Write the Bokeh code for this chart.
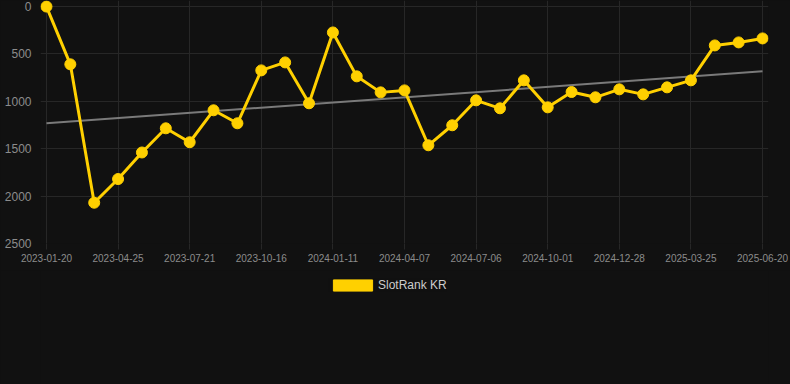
from bokeh.plotting import figure
from bokeh.layouts import column
from bokeh.models import Range1d, FixedTicker, Legend, LegendItem, ColumnDataSource
from bokeh.embed import file_html
from bokeh.resources import INLINE

tick_labels = ["2023-01-20", "2023-04-25", "2023-07-21", "2023-10-16", "2024-01-11",
               "2024-04-07", "2024-07-06", "2024-10-01", "2024-12-28", "2025-03-25", "2025-06-20"]
ranks = [1, 610, 2070, 1820, 1540, 1285, 1432, 1095, 1232, 674, 590, 1021, 274, 737, 906,
         885, 1464, 1253, 990, 1074, 779, 1064, 902, 958, 874, 927, 853, 779, 411, 379, 337]
trend_ends = [1232, 684]
series_name = "SlotRank KR"

idx = list(range(len(ranks)))
YELLOW = "#FFD000"
BG = "#111111"
GRID = "#272727"
TXT = "#8c8c8c"
BGSTYLE = {"background-color": BG}

p = figure(width=790, height=270, output_backend="svg", toolbar_location=None,
           x_range=Range1d(-0.25, len(ranks) - 1 + 0.25), y_range=Range1d(2500, -63),
           min_border_left=40, min_border_right=22, min_border_top=0, min_border_bottom=27,
           styles=BGSTYLE)
p.background_fill_color = BG
p.border_fill_color = BG
p.outline_line_color = None

p.xgrid.grid_line_color = GRID
p.ygrid.grid_line_color = GRID
p.xaxis.ticker = FixedTicker(ticks=list(range(0, len(ranks), 3)))
p.xaxis.major_label_overrides = {i * 3: t for i, t in enumerate(tick_labels)}
p.yaxis.ticker = FixedTicker(ticks=[0, 500, 1000, 1500, 2000, 2500])
for ax in (p.xaxis, p.yaxis):
    ax.axis_line_color = None
    ax.minor_tick_line_color = None
    ax.major_label_text_color = TXT
    ax.major_label_text_font = "Liberation Sans"
p.xaxis.major_tick_line_color = GRID
p.xaxis.major_tick_in = 0
p.xaxis.major_tick_out = 6
p.xaxis.major_label_standoff = 4
p.xaxis.major_label_text_font_size = "10px"
p.yaxis.major_tick_line_color = None
p.yaxis.major_label_standoff = 3
p.yaxis.major_label_text_font_size = "12px"

n = len(ranks)
p.line([0, n - 1], trend_ends, line_color="#7a7a7a", line_width=2)
src = ColumnDataSource(dict(x=idx, y=ranks))
p.line("x", "y", source=src, line_color=YELLOW, line_width=3)
p.scatter("x", "y", source=src, size=11, fill_color=YELLOW, line_color=YELLOW)

# legend strip
lg = figure(width=790, height=114, output_backend="svg", toolbar_location=None,
            x_axis_type=None, y_axis_type=None,
            x_range=Range1d(0, 1), y_range=Range1d(0, 1),
            min_border_left=0, min_border_right=0, min_border_top=0, min_border_bottom=0,
            styles=BGSTYLE)
lg.background_fill_color = BG
lg.border_fill_color = BG
lg.outline_line_color = None
lg.grid.visible = False
dummy = lg.quad(left=[5], right=[6], top=[6], bottom=[5],
                fill_color=YELLOW, line_color=YELLOW)
legend = Legend(items=[LegendItem(label=series_name, renderers=[dummy], index=0)],
                orientation="horizontal", location=(288, 92),
                background_fill_color=BG, border_line_color=None,
                label_text_color="#cccccc", label_text_font="Liberation Sans",
                label_text_font_size="12px", glyph_width=49, glyph_height=14,
                label_height=12, label_standoff=1, margin=0, padding=4)
lg.add_layout(legend, "center")

page = column(p, lg, spacing=0, styles=BGSTYLE)
open("out.html", "w").write(file_html(page, INLINE))
